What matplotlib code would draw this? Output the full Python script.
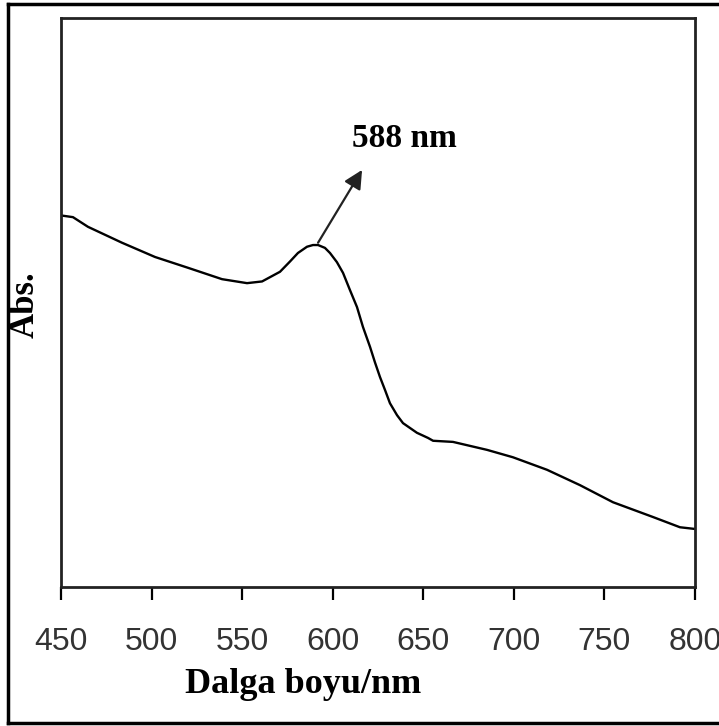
import matplotlib.pyplot as plt
from matplotlib.lines import Line2D

# wavelength (nm) and absorbance (arbitrary units)
wavelength = [450, 456.6, 464.9, 483.7, 501.9, 520.1, 538.9, 552.7, 561.0, 570.9,
              576.4, 580.8, 585.8, 589.1, 591.9, 595.7, 598.5, 602.3, 605.7, 609.5,
              613.4, 616.7, 620.6, 623.3, 626.1, 628.9, 631.6, 635.5, 638.8, 646.5,
              652.6, 655.4, 666.4, 685.2, 699.5, 718.3, 736.5, 754.7, 776.8, 791.7,
              800]
absorbance = [0.653, 0.650, 0.633, 0.605, 0.580, 0.561, 0.541, 0.534, 0.537, 0.554,
              0.572, 0.587, 0.598, 0.601, 0.601, 0.596, 0.587, 0.571, 0.552, 0.522,
              0.492, 0.457, 0.422, 0.395, 0.369, 0.346, 0.323, 0.302, 0.288, 0.271,
              0.262, 0.257, 0.255, 0.241, 0.228, 0.206, 0.179, 0.149, 0.123, 0.105,
              0.102]
xticks = [450, 500, 550, 600, 650, 700, 750, 800]

peak_label = '588 nm'
peak_xy = (591.9, 0.605)
arrow_tip = (616.2, 0.733)
label_xy = (639.4, 0.789)

fig = plt.figure(figsize=(7.19, 7.26), dpi=100)
ax = fig.add_axes([61 / 719, 1 - 587 / 726, 634 / 719, 569 / 726])

ax.plot(wavelength, absorbance, color='black', lw=1.7)
ax.set_xlim(450, 800)
ax.set_ylim(0, 1)

ax.set_xticks(xticks)
ax.set_xticklabels([str(t) for t in xticks], fontfamily='Liberation Sans',
                   fontsize=23, color='#333333')
ax.tick_params(axis='x', direction='out', length=9, width=1.6, pad=20)
ax.set_yticks([])
for s in ax.spines.values():
    s.set_linewidth(2)
    s.set_color('#222222')

# arrow + peak label
ax.annotate('', xy=arrow_tip, xytext=peak_xy,
            arrowprops=dict(arrowstyle='-|>', color='#222222', lw=1.6,
                            mutation_scale=28, shrinkA=0, shrinkB=0))
ax.text(label_xy[0], label_xy[1], peak_label, fontfamily='Liberation Serif',
        fontweight='bold', fontsize=24, ha='center', va='center')

fig.text(303 / 719, 1 - 693 / 726, 'Dalga boyu/nm', fontfamily='Liberation Serif',
         fontweight='bold', fontsize=26, ha='center', va='baseline')
fig.text(25 / 719, 1 - 305 / 726, 'Abs.', fontfamily='Liberation Serif',
         fontweight='bold', fontsize=25, ha='center', va='center', rotation=90)

# outer frame of the picture
for x0, y0, x1, y1 in [(8, 4, 8, 723), (8, 4, 719, 4), (8, 723, 719, 723)]:
    fig.add_artist(Line2D([x0 / 719, x1 / 719], [1 - y0 / 726, 1 - y1 / 726],
                          color='black', lw=2.5, transform=fig.transFigure))

fig.savefig('out.png', dpi=100)
